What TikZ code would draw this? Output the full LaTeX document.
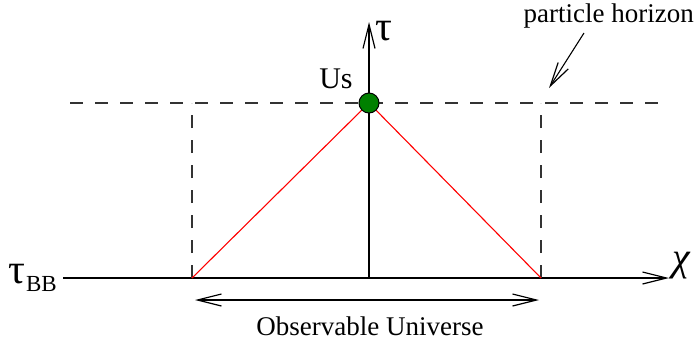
\documentclass[tikz,border=0pt]{standalone}
\usepackage{fontspec}
\setmainfont{Liberation Serif}
\usetikzlibrary{arrows.meta}

\begin{document}
\begin{tikzpicture}[x=1pt,y=-1pt,>={Straight Barb[length=24pt,width=12pt,line width=1.2pt]},
  hdash/.style={black!80,line width=1.2pt,dash pattern=on 13pt off 12pt},
  lbl/.style={font=\fontsize{27}{30}\selectfont,inner sep=0pt},
  grk/.style={font=\fontsize{42}{44}\selectfont,inner sep=0pt}]
  \useasboundingbox (0,0) rectangle (697,341);
  % axes
  \coordinate (xl) at (63,278);
  \coordinate (xr) at (669,278);
  \coordinate (o) at (369,278);
  \coordinate (ot) at (369,22);
  \draw[->,line width=1.2pt] (xl) -- (xr);
  \draw[->,line width=1.2pt] (o) -- (ot);
  \node[grk,font=\fontsize{40}{44}\itshape] (chi) at (681,266) {χ};
  \node[grk] (tau) at (384,31) {τ};
  \node[grk,anchor=east] (bb) at (57,278) {τ\kern1pt\raisebox{-8pt}{\fontsize{23}{24}\selectfont BB}};
  % horizon lines
  \coordinate (hl) at (70,103);
  \coordinate (hr) at (664,103);
  \coordinate (pl) at (192,278);
  \coordinate (pr) at (541,278);
  \coordinate (ql) at (192,103);
  \coordinate (qr) at (541,103);
  \draw[hdash] (hl) -- (hr);
  \draw[hdash] (pl) -- (ql);
  \draw[hdash] (pr) -- (qr);
  % light cone
  \coordinate (usc) at (369,103);
  \draw[red,line width=1.1pt] (pl) -- (usc);
  \draw[red,line width=1.1pt] (pr) -- (usc);
  \node[circle,draw,line width=1pt,fill=green!50!black,minimum size=20pt,inner sep=0pt] (us) at (usc) {};
  \node[lbl,font=\fontsize{30}{30}\selectfont] (uslbl) at (336,79) {Us};
  % particle horizon
  \node[lbl,anchor=east] (ph) at (694,16) {particle horizon};
  \coordinate (pha) at (584,33);
  \coordinate (phb) at (549,88);
  \draw[->,line width=1.1pt] (pha) -- (phb);
  % observable universe
  \coordinate (ol) at (195,300);
  \coordinate (or) at (539,300);
  \draw[<->,line width=1.2pt] (ol) -- (or);
  \node[lbl] (obs) at (370,326) {Observable Universe};
\end{tikzpicture}
\end{document}
